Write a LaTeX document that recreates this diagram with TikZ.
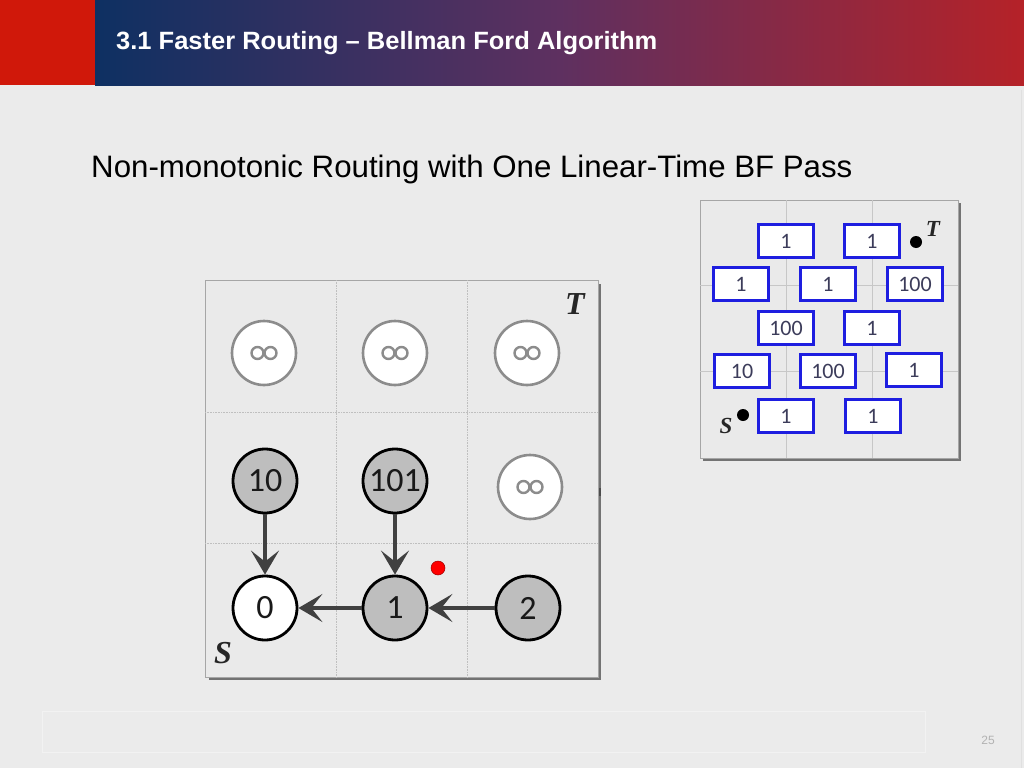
\documentclass[tikz,border=0pt]{standalone}
\usepackage{fontspec}
\setmainfont{Liberation Sans}
\newfontfamily\calib{Carlito}
\newfontfamily\serifit{Liberation Serif}
\usetikzlibrary{arrows.meta,shadings}
\definecolor{bgray}{HTML}{EBEBEB}
\definecolor{hdred}{HTML}{D0180A}
\definecolor{gradL}{HTML}{0E3062}
\definecolor{gradM}{HTML}{5E3060}
\definecolor{gradR}{HTML}{B52228}
\definecolor{cellgray}{HTML}{EAEAEA}
\definecolor{nodegray}{HTML}{BEBEBE}
\definecolor{infgray}{HTML}{8C8C8C}
\definecolor{arrgray}{HTML}{404040}
\definecolor{boxblue}{HTML}{1E1EE0}
\definecolor{boxtext}{HTML}{3C3C5A}
\tikzset{
  panel/.style={draw=black!35, line width=0.8pt, fill=cellgray},
  gridline/.style={draw=black!25, line width=0.6pt, dash pattern=on 1pt off 0.6pt},
  infnode/.style={circle, minimum size=64pt, inner sep=0pt, fill=white, draw=infgray, line width=2.6pt},
  infstroke/.style={draw=infgray, line width=2.4pt},
  valnode/.style={circle, minimum size=64pt, inner sep=0pt, fill=nodegray, draw=black, line width=2.8pt, font=\calib\fontsize{34}{34}\selectfont, text=black!90},
  srcnode/.style={valnode, fill=white},
  edge/.style={draw=arrgray, line width=4.5pt, -{Stealth[length=24pt,width=28pt,inset=11pt]}},
  wbox/.style={draw=boxblue, line width=2.6pt, fill=white, minimum width=55pt, minimum height=33pt, inner sep=0pt, font=\calib\fontsize{22}{22}\selectfont, text=boxtext},
  corner/.style={font=\serifit\bfseries\itshape\fontsize{32}{32}\selectfont, text=black!85},
  smallcorner/.style={font=\serifit\bfseries\itshape\fontsize{23}{23}\selectfont, text=black!85},
}
\begin{document}
\begin{tikzpicture}[x=1pt,y=-1pt]
\useasboundingbox (0,0) rectangle (1024,768);
\fill[bgray] (0,0) rectangle (1024,768);
% header
\fill[hdred] (0,0) rectangle (95,85);
\shade[left color=gradL, right color=gradR, middle color=gradM] (95,0) rectangle (1024,85);
\node[anchor=base west, inner sep=0pt, text=white, font=\bfseries\fontsize{25}{25}\selectfont] (hdr) at (116,49) {\scalebox{1.02}[1]{3.1 Faster Routing – Bellman Ford Algorithm}};
% footer
\draw[black!5, line width=0.8pt] (42,711) rectangle (925,752);
\draw[black!12, line width=0.8pt] (1021,90) -- (1021,768);
\node[anchor=base, inner sep=0pt, text=black!30, font=\fontsize{12}{12}\selectfont] (pg) at (988,744) {25};
% subtitle
\node[anchor=base west, inner sep=0pt, font=\fontsize{31}{31}\selectfont] (sub) at (91,177) {\scalebox{1.008}[1]{Non-monotonic Routing with One Linear-Time BF Pass}};
% left panel
\fill[black!55] (209,284) rectangle (601,680);
\path[panel] (205,280) rectangle (598,677);
\draw[gridline] (336,280) -- (336,677);
\draw[gridline] (467,280) -- (467,677);
\draw[gridline] (205,412) -- (598,412);
\draw[gridline] (205,543) -- (598,543);
\node[infnode] (i1) at (264,353) {};
\node[infnode] (i2) at (395,353) {};
\node[infnode] (i3) at (527,353) {};
\node[valnode] (n10) at (265,481) {10};
\node[valnode] (n101) at (395,481) {101};
\node[infnode] (i4) at (530,487) {};
\foreach \n in {i1,i2,i3,i4}
  \draw[infstroke] ([xshift=-6.5pt]\n.center) circle (6pt) ([xshift=6.5pt]\n.center) circle (6pt);
\node[srcnode] (n0) at (265,608) {0};
\node[valnode] (n1) at (395,608) {1};
\node[valnode] (n2) at (528,608) {2};
\draw[edge] (n10) -- (n0);
\draw[edge] (n101) -- (n1);
\draw[edge] (n1) -- (n0);
\draw[edge] (n2) -- (n1);
\node[circle, fill=red, draw=red!60!black, line width=0.5pt, minimum size=14pt, inner sep=0pt] (rd) at (438,568) {};
\node[corner] (T) at (575,304) {T};
\node[corner] (S) at (223,653) {S};
\draw[black!70, line width=1.2pt] (600,488) -- (600,496);
% right panel
\fill[black!55] (703,203) rectangle (961,461);
\path[panel] (700,200) rectangle (958,458);
\draw[black!22, line width=0.8pt] (786,200) -- (786,458);
\draw[black!22, line width=0.8pt] (872,200) -- (872,458);
\draw[black!22, line width=0.8pt] (700,285) -- (958,285);
\draw[black!22, line width=0.8pt] (700,371) -- (958,371);
\node[wbox] (b1) at (786,241) {1};
\node[wbox] (b2) at (872,241) {1};
\node[wbox] (b3) at (741,284) {1};
\node[wbox] (b4) at (828,284) {1};
\node[wbox] (b5) at (915,284) {100};
\node[wbox] (b6) at (786,328) {100};
\node[wbox] (b7) at (872,328) {1};
\node[wbox] (b8) at (742,371) {10};
\node[wbox] (b9) at (828,371) {100};
\node[wbox] (b10) at (914,370) {1};
\node[wbox] (b11) at (786,416) {1};
\node[wbox] (b12) at (873,416) {1};
\node[circle, fill=black, minimum size=12pt, inner sep=0pt] (td) at (916,242) {};
\node[smallcorner] (tl) at (933,229) {T};
\node[circle, fill=black, minimum size=12pt, inner sep=0pt] (sd) at (743,415) {};
\node[smallcorner] (sl) at (726,426) {S};
\end{tikzpicture}
\end{document}
